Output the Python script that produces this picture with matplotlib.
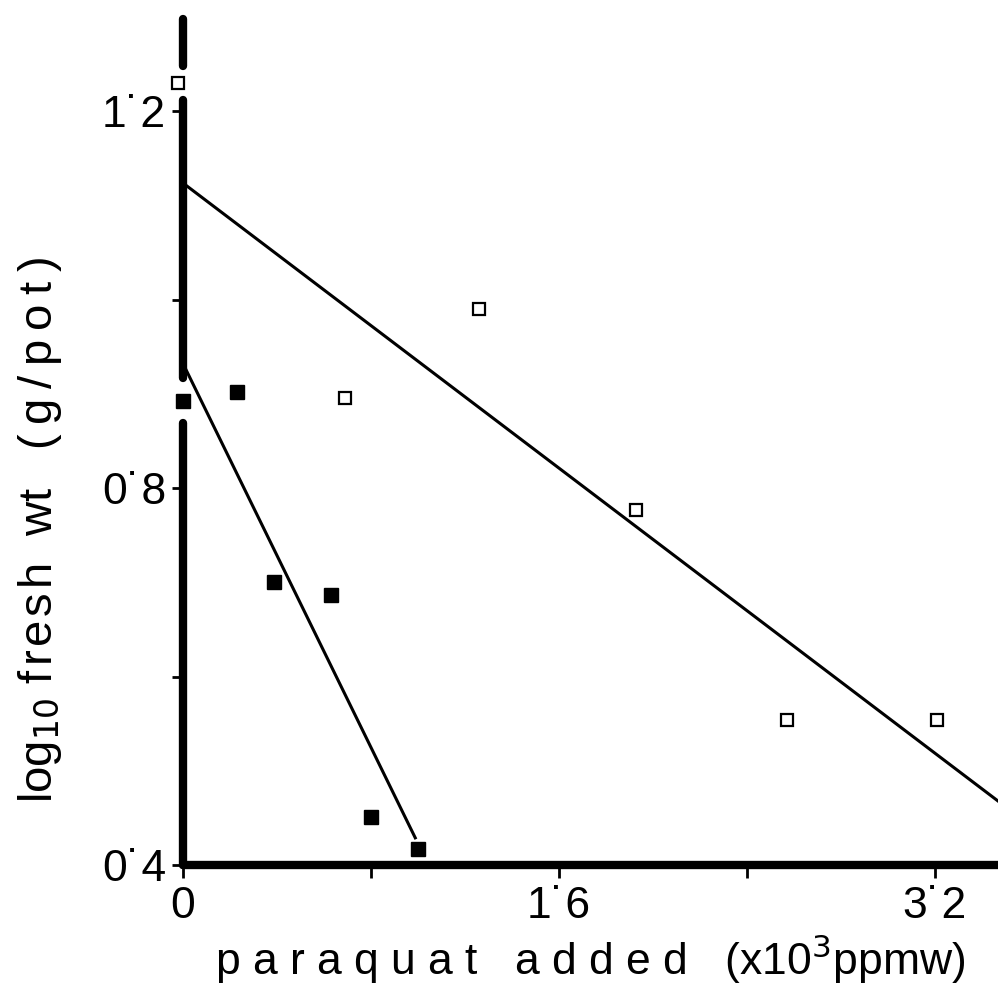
import numpy as np
import matplotlib
matplotlib.use("Agg")
import matplotlib.pyplot as plt

# Data (x in 10^3 ppmw, y = log10 fresh wt g/pot)
open_x = [-0.02, 0.69, 1.26, 1.93, 2.57, 3.21]
open_y = [1.23, 0.896, 0.99, 0.777, 0.554, 0.554]
filled_x = [0.0, 0.23, 0.39, 0.63, 0.80, 1.00]
filled_y = [0.893, 0.902, 0.70, 0.687, 0.451, 0.417]

open_fit = (1.124, -0.189)      # intercept, slope
filled_fit = (0.933, -0.509)
open_fit_range = (0.0, 3.6)
filled_fit_range = (0.0, 0.99)

xticks = [0, 0.8, 1.6, 2.4, 3.2]
xticklabels = ["0", "", "1˙6", "", "3˙2"]
yticks = [0.4, 0.6, 0.8, 1.0, 1.2]
yticklabels = ["0˙4", "", "0˙8", "", "1˙2"]

plt.rcParams['font.family'] = ['Liberation Sans', 'DejaVu Sans']

fig = plt.figure(figsize=(9.98, 9.98), dpi=100)
ax = fig.add_axes([0.183, 0.133, 0.817, 0.852])
YMIN, YMAX = 0.4, 1.302
ax.set_xlim(0, 3.47)
ax.set_ylim(YMIN, YMAX)

for s in ['top', 'right', 'left']:
    ax.spines[s].set_visible(False)
ax.spines['bottom'].set_linewidth(6)
ax.spines['bottom'].set_capstyle('round')

# left axis drawn in pieces, broken where points sit on it
gaps = sorted([(open_y[0], 0.018), (filled_y[0], 0.024)])
seg_start = YMIN
segs = []
for yc, hw in gaps:
    segs.append((seg_start, yc - hw))
    seg_start = yc + hw
segs.append((seg_start, YMAX - 0.004))
for y0, y1 in segs:
    ax.plot([0, 0], [y0, y1], color='black', lw=6, solid_capstyle='round',
            clip_on=False, zorder=2.5)

# fitted lines
for (b, m), (x0, x1) in [(open_fit, open_fit_range), (filled_fit, filled_fit_range)]:
    xs = np.linspace(x0, x1, 50)
    ax.plot(xs, b + m * xs, color='black', lw=2.2, zorder=3)

ax.plot(open_x, open_y, ls='none', marker='s', ms=9, mfc='white', mec='black', mew=1.6,
        zorder=5, clip_on=False)
ax.plot(filled_x, filled_y, ls='none', marker='s', ms=10, mfc='black', mec='black',
        zorder=5, clip_on=False)

ax.set_xticks(xticks)
ax.set_xticklabels(xticklabels)
ax.set_yticks(yticks)
ax.set_yticklabels(yticklabels)
ax.tick_params(axis='both', direction='out', length=9, width=2, labelsize=32, colors='black')
ax.tick_params(axis='x', pad=6)
ax.tick_params(axis='y', pad=4, length=8)

ax.set_xlabel("p a r a q u a t   a d d e d   (x10$^3$ppmw)", fontsize=32, labelpad=4)

hs = "\u200a"
ts = "\u2009"
ylabel = ("log$_{10}$ " + hs.join("fresh") + "  wt   " + ts.join("(g/pot)"))
fig.text(0.040, 1 - 530 / 998, ylabel, rotation=90, fontsize=34,
         ha='center', va='center', family=['Liberation Sans', 'DejaVu Sans'])

fig.savefig("out.png", dpi=100, facecolor='white')
